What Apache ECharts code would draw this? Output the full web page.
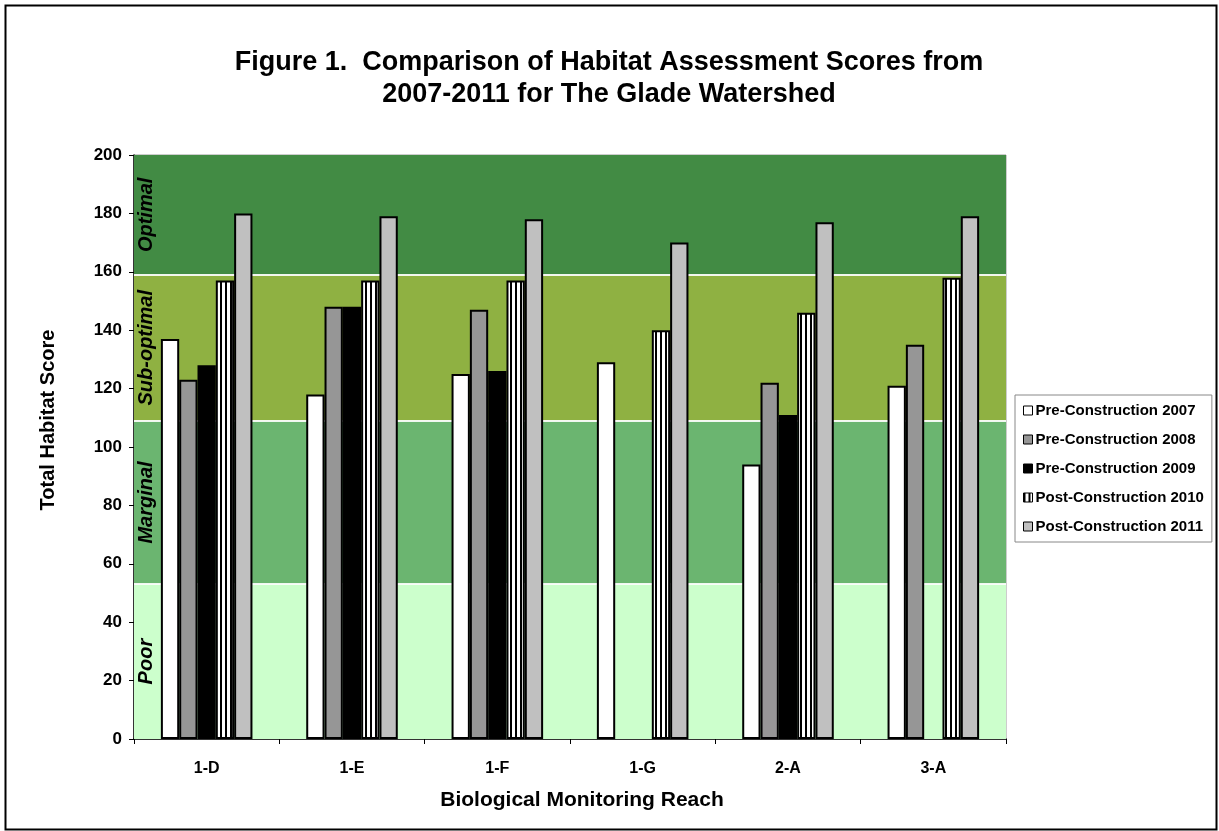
<!DOCTYPE html>
<html>
<head>
<meta charset="utf-8">
<script src="https://cdn.jsdelivr.net/npm/echarts@6/dist/echarts.min.js"></script>
<style>
  html, body { margin: 0; padding: 0; background: #fff; }
  #chart { width: 1219px; height: 831px; }
</style>
</head>
<body>
<div id="chart"></div>
<script>
// ---- data ----
const categories = ['1-D', '1-E', '1-F', '1-G', '2-A', '3-A'];
const seriesNames = ['Pre-Construction 2007', 'Pre-Construction 2008', 'Pre-Construction 2009', 'Post-Construction 2010', 'Post-Construction 2011'];
const pre2007 = [137, 118, 125, 129, 94, 121];
const pre2008 = [123, 148, 147, null, 122, 135];
const pre2009 = [128, 148, 126, null, 111, null];
const post2010 = [157, 157, 157, 140, 146, 158];
const post2011 = [180, 179, 178, 170, 177, 179];
const bandNames = ['Poor', 'Marginal', 'Sub-optimal', 'Optimal'];
const bandBounds = [0, 53, 109, 159, 200];
const yTicks = { min: 0, max: 200, interval: 20 };

// ---- styles ----
const FONT = '"Liberation Sans", Arial, sans-serif';
const bandColors = ['#CCFFCC', '#6BB570', '#8FB142', '#428B44'];

function stripePattern() {
  const c = document.createElement('canvas');
  c.width = 5; c.height = 10;
  const g = c.getContext('2d');
  g.fillStyle = '#ffffff';
  g.fillRect(0, 0, 5, 10);
  g.fillStyle = '#000000';
  g.fillRect(0, 0, 2, 10);
  return c;
}
const fills = ['#ffffff', '#969696', '#000000', { image: stripePattern(), repeat: 'repeat' }, '#C0C0C0'];
const values = [pre2007, pre2008, pre2009, post2010, post2011];

const chart = echarts.init(document.getElementById('chart'), null, { renderer: 'canvas' });

const bandAreas = bandNames.map((n, i) => [
  { yAxis: bandBounds[i], name: n, itemStyle: { color: bandColors[i], opacity: 1 } },
  { yAxis: bandBounds[i + 1] }
]);

const backgroundSeries = {
  type: 'line',
  name: '__bands',
  data: categories.map(() => '-'),
  symbol: 'none',
  silent: true,
  z: 1,
  markArea: {
    silent: true,
    z: 1,
    label: {
      show: true,
      position: 'insideLeft',
      distance: 12,
      rotate: 90,
      align: 'center',
      verticalAlign: 'middle',
      color: '#000',
      fontFamily: FONT,
      fontWeight: 'bold',
      fontStyle: 'italic',
      fontSize: 20
    },
    data: bandAreas
  },
  markLine: {
    silent: true,
    symbol: 'none',
    z: 1,
    label: { show: false },
    lineStyle: { color: '#ffffff', width: 2, type: 'solid', opacity: 0.9 },
    data: bandBounds.slice(1, 4).map(v => ({ yAxis: v }))
  }
};

const barSeries = seriesNames.map((name, i) => ({
  type: 'bar',
  name: name,
  data: values[i],
  z: 3,
  barGap: '0%',
  barCategoryGap: '37%',
  itemStyle: { color: fills[i], borderColor: '#000', borderWidth: 2 },
  emphasis: { disabled: true }
}));

chart.setOption({
  animation: false,
  backgroundColor: '#ffffff',
  grid: {
    left: 134, right: 213, top: 155, bottom: 92,
    show: true, borderColor: '#9a9a9a', borderWidth: 1, backgroundColor: 'transparent'
  },
  legend: {
    data: seriesNames,
    orient: 'vertical',
    left: 1015,
    top: 395,
    padding: [8, 8, 8, 8],
    itemGap: 14,
    itemWidth: 9,
    itemHeight: 9,
    icon: 'rect',
    backgroundColor: '#fff',
    borderColor: '#888',
    borderWidth: 1,
    itemStyle: { borderColor: '#000', borderWidth: 1 },
    textStyle: { fontFamily: FONT, fontWeight: 'bold', fontSize: 15, color: '#000', padding: [0, 0, 0, -2] }
  },
  xAxis: {
    type: 'category',
    data: categories,
    axisLine: { lineStyle: { color: '#000', width: 1.5 } },
    axisTick: { show: true, length: 5, lineStyle: { color: '#000' } },
    axisLabel: { fontFamily: FONT, fontWeight: 'bold', fontSize: 16, color: '#000', margin: 22 }
  },
  yAxis: {
    type: 'value',
    min: yTicks.min,
    max: yTicks.max,
    interval: yTicks.interval,
    splitLine: { show: false },
    axisLine: { show: true, lineStyle: { color: '#000', width: 1.5 } },
    axisTick: { show: true, length: 5, lineStyle: { color: '#000' } },
    axisLabel: { fontFamily: FONT, fontWeight: 'bold', fontSize: 17, color: '#000', margin: 12 }
  },
  graphic: [
    {
      type: 'rect', left: 3, top: 3, z: 100, silent: true,
      shape: { width: 1211, height: 824 },
      style: { fill: null, stroke: '#000', lineWidth: 2 }
    },
    {
      type: 'text', x: 609, y: 79, z: 100,
      style: {
        text: 'Figure 1.  Comparison of Habitat Assessment Scores from\n2007-2011 for The Glade Watershed',
        fontFamily: FONT, fontWeight: 'bold', fontSize: 27, lineHeight: 32, fill: '#000',
        align: 'center', verticalAlign: 'middle'
      }
    },
    {
      type: 'text', x: 48, y: 420, rotation: Math.PI / 2, z: 100,
      style: { text: 'Total Habitat Score', fontFamily: FONT, fontWeight: 'bold', fontSize: 20, fill: '#000', align: 'center', verticalAlign: 'middle' }
    },
    {
      type: 'text', x: 582, y: 800, z: 100,
      style: { text: 'Biological Monitoring Reach', fontFamily: FONT, fontWeight: 'bold', fontSize: 21, fill: '#000', align: 'center', verticalAlign: 'middle' }
    }
  ],
  series: [backgroundSeries].concat(barSeries)
});
</script>
</body>
</html>
